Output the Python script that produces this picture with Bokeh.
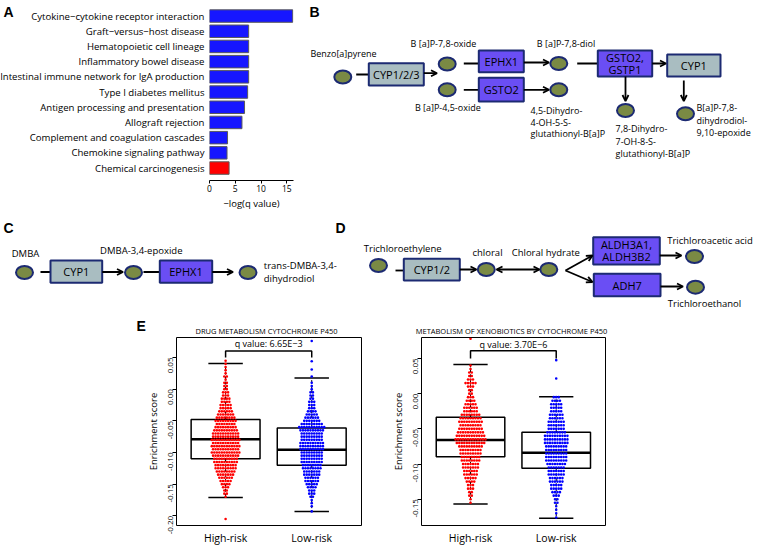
import math
from bokeh.plotting import figure
from bokeh.models import Range1d, Arrow, OpenHead, FixedTicker, Spacer
from bokeh.layouts import column, row
from bokeh.embed import file_html
from bokeh.resources import INLINE
from bokeh.core.properties import value

FONT = "Open Sans"
BOLD_FONT = "Liberation Sans"
OLIVE = "#7a8a44"
NAVY = "#1c2a72"
GREY_BOX = "#a9bdc1"
PURPLE_BOX = "#6a4ef4"

# ---------------- Panel A data ----------------
pathways = [
    "Cytokine\u2212cytokine receptor interaction",
    "Graft\u2212versus\u2212host disease",
    "Hematopoietic cell lineage",
    "Inflammatory bowel disease",
    "Intestinal immune network for IgA production",
    "Type I diabetes mellitus",
    "Antigen processing and presentation",
    "Allograft rejection",
    "Complement and coagulation cascades",
    "Chemokine signaling pathway",
    "Chemical carcinogenesis",
]
neg_log_q = [16.15, 7.6, 7.6, 7.6, 7.6, 7.4, 6.8, 6.3, 3.5, 3.4, 3.8]
highlight = "Chemical carcinogenesis"
a_ticks = [0, 5, 10, 15]
a_xlabel = "\u2212log(q value)"

# ---------------- Panel E data ----------------
groups = ["High-risk", "Low-risk"]
drug_title = "DRUG METABOLISM CYTOCHROME P450"
xeno_title = "METABOLISM OF XENOBIOTICS BY CYTOCHROME P450"
drug_q = "q value: 6.65E\u22123"
xeno_q = "q value: 3.70E\u22126"
drug_ticks = [-0.20, -0.15, -0.10, -0.05, 0.00, 0.05]
drug_tick_labels = ["-0.20", "-0.15", "-0.10", "-0.05", "0.00", "0.05"]
xeno_ticks = [-0.15, -0.10, -0.05, 0.00, 0.05]
xeno_tick_labels = ["-0.15", "-0.10", "-0.05", "0.00", "0.05"]

# box stats: lower whisker, Q1, median, Q3, upper whisker
drug_high_box = [-0.171, -0.110, -0.079, -0.048, 0.0405]
drug_low_box = [-0.193, -0.120, -0.0956, -0.0614, 0.0178]
xeno_high_box = [-0.1567, -0.0896, -0.0659, -0.0337, 0.0415]
xeno_low_box = [-0.177, -0.106, -0.0839, -0.055, -0.0045]

# beeswarm: score levels and number of samples at each level
drug_high_levels = [0.045, 0.040, 0.035, 0.030, 0.025, 0.020, 0.015, 0.010, 0.005, 0.000,
                    -0.005, -0.010, -0.015, -0.020, -0.025, -0.030, -0.035, -0.040, -0.045, -0.050,
                    -0.055, -0.060, -0.065, -0.070, -0.075, -0.080, -0.085, -0.090, -0.095, -0.100,
                    -0.105, -0.110, -0.115, -0.120, -0.125, -0.130, -0.135, -0.140, -0.145, -0.150,
                    -0.155, -0.160, -0.165, -0.170, -0.205]
drug_high_counts = [1, 1, 1, 1, 1, 2, 1, 2, 2, 2,
                    3, 3, 4, 4, 5, 5, 6, 7, 8, 9,
                    8, 9, 10, 11, 11, 12, 11, 12, 11, 12,
                    11, 10, 10, 9, 9, 8, 7, 6, 5, 4,
                    3, 2, 2, 1, 1]
drug_low_levels = [0.076, 0.044, 0.031, 0.020, 0.010, 0.005, 0.000,
                   -0.005, -0.010, -0.015, -0.020, -0.025, -0.030, -0.035, -0.040, -0.045, -0.050,
                   -0.055, -0.060, -0.065, -0.070, -0.075, -0.080, -0.085, -0.090, -0.095, -0.100,
                   -0.105, -0.110, -0.115, -0.120, -0.125, -0.130, -0.135, -0.140, -0.145, -0.150,
                   -0.155, -0.160, -0.165, -0.170, -0.175, -0.180, -0.185, -0.193]
drug_low_counts = [1, 1, 1, 1, 1, 1, 1,
                   2, 2, 2, 3, 3, 3, 4, 5, 6, 7,
                   9, 11, 10, 9, 9, 9, 10, 10, 10, 9,
                   9, 9, 9, 8, 8, 7, 7, 6, 6, 5,
                   4, 3, 3, 2, 1, 1, 1, 1]
xeno_high_levels = [0.078, 0.040, 0.035, 0.030, 0.025, 0.020, 0.015, 0.010, 0.005, 0.000,
                    -0.005, -0.010, -0.015, -0.020, -0.025, -0.030, -0.035, -0.040, -0.045, -0.050,
                    -0.055, -0.060, -0.065, -0.070, -0.075, -0.080, -0.085, -0.090, -0.095, -0.100,
                    -0.105, -0.110, -0.115, -0.120, -0.125, -0.130, -0.135, -0.140, -0.145, -0.150,
                    -0.155]
xeno_high_counts = [1, 1, 1, 2, 2, 3, 5, 3, 2, 2,
                    3, 4, 5, 6, 6, 8, 9, 10, 9, 10,
                    11, 12, 13, 12, 10, 9, 9, 8, 8, 7,
                    7, 6, 6, 5, 4, 3, 3, 2, 2, 1,
                    1]
xeno_low_levels = [0.0476, 0.0216,
                   -0.005, -0.010, -0.015, -0.020, -0.025, -0.030, -0.035, -0.040, -0.045, -0.050,
                   -0.055, -0.060, -0.065, -0.070, -0.075, -0.080, -0.085, -0.090, -0.095, -0.100,
                   -0.105, -0.110, -0.115, -0.120, -0.125, -0.130, -0.135, -0.140, -0.145, -0.150,
                   -0.155, -0.160, -0.165, -0.170, -0.176]
xeno_low_counts = [1, 1,
                   3, 4, 5, 5, 5, 6, 6, 7, 7, 7,
                   8, 10, 10, 10, 9, 9, 9, 9, 9, 8,
                   7, 7, 7, 6, 6, 5, 5, 4, 3, 2,
                   2, 1, 1, 1, 1]


def base_fig(width, height, xr, yr, **kw):
    p = figure(width=width, height=height, x_range=xr, y_range=yr,
               output_backend="svg", toolbar_location=None, **kw)
    p.grid.visible = False
    return p


def panel_letter(p, x, y, t):
    p.text(x=[x], y=[y], text=[t], text_font=value(BOLD_FONT), text_font_style="bold",
           text_font_size=value("14px"), text_baseline="top", text_align="left", text_color="black")


def black_axis(ax):
    ax.major_label_text_color = "black"
    ax.axis_label_text_color = "black"
    ax.major_tick_line_color = "black"


# ---------------- Panel A ----------------
n = len(pathways)
a_y = [n - 1 - i for i in range(n)]
a_colors = ["#ff0000" if pw == highlight else "#1616ff" for pw in pathways]
a_yrange = Range1d(-0.819, 11.023)
A_PX = 15.2  # pixels per category step

# category labels (left part of panel A), sharing the bar chart's y scale
figAL = base_fig(205, 212, Range1d(0, 205), a_yrange, min_border=0, min_border_bottom=32,
                 x_axis_location=None, y_axis_location=None)
figAL.outline_line_color = None
figAL.text(x=[204] * n, y=a_y, text=pathways, text_font=value(FONT), text_font_size=value("9.6px"),
           text_align="right", text_baseline="middle", text_color="black")
panel_letter(figAL, 3, a_yrange.end - 3 / A_PX, "A")

# bars
figAB = base_fig(98, 212, Range1d(0, 16.3), a_yrange, min_border_left=4, min_border_right=10,
                 min_border_top=0, min_border_bottom=32, y_axis_location=None)
figAB.outline_line_color = None
figAB.hbar(y=a_y, left=0, right=neg_log_q, height=0.82, fill_color=a_colors,
           line_color="#5a5a5a", line_width=1)
xa = figAB.xaxis[0]
xa.ticker = FixedTicker(ticks=a_ticks)
xa.major_tick_in = 0
xa.major_tick_out = 3
xa.minor_tick_line_color = None
xa.axis_line_color = "black"
xa.major_label_standoff = 1
xa.major_label_text_font = FONT
xa.major_label_text_font_size = "8.5px"
xa.axis_label = a_xlabel
xa.axis_label_text_font = FONT
xa.axis_label_text_font_size = "9.5px"
xa.axis_label_text_font_style = "normal"
xa.axis_label_standoff = 2
black_axis(xa)


# ---------------- Diagram helpers ----------------
def canvas(x0, x1, y0, y1, bottom=0):
    p = base_fig(x1 - x0, y1 - y0 + bottom, Range1d(x0, x1), Range1d(y1, y0),
                 min_border=0, min_border_bottom=bottom, x_axis_location=None, y_axis_location=None)
    p.outline_line_color = None
    return p


def draw_nodes(p, nodes):
    p.ellipse(x=[a for a, b in nodes], y=[b for a, b in nodes], width=17, height=13,
              fill_color=OLIVE, line_color=NAVY, line_width=2)


def draw_boxes(p, boxes, color):
    p.quad(left=[b[0] for b in boxes], right=[b[1] for b in boxes],
           top=[b[2] for b in boxes], bottom=[b[3] for b in boxes],
           fill_color=color, line_color=NAVY, line_width=2)
    xs, ys, ts = [], [], []
    for b in boxes:
        lines = b[4]
        cx = (b[0] + b[1]) / 2
        cy = (b[2] + b[3]) / 2
        k = len(lines)
        for i, t in enumerate(lines):
            xs.append(cx)
            ys.append(cy + (i - (k - 1) / 2) * 12)
            ts.append(t)
    p.text(x=xs, y=ys, text=ts, text_font=value(FONT), text_font_size=value("11px"),
           text_align="center", text_baseline="middle", text_color="black")


def draw_lines(p, segs):
    p.segment(x0=[s[0] for s in segs], y0=[s[1] for s in segs],
              x1=[s[2] for s in segs], y1=[s[3] for s in segs], line_color="black", line_width=1.8)


def draw_arrows(p, arrows, both=False):
    for a in arrows:
        kw = dict(end=OpenHead(size=6, line_width=1.8, line_color="black"),
                  x_start=a[0], y_start=a[1], x_end=a[2], y_end=a[3],
                  line_width=1.8, line_color="black")
        if both:
            kw["start"] = OpenHead(size=6, line_width=1.8, line_color="black")
        p.add_layout(Arrow(**kw))


def draw_texts(p, items, align, size="9px"):
    p.text(x=[t[0] for t in items], y=[t[1] for t in items], text=[t[2] for t in items],
           text_font=value(FONT), text_font_size=value(size), text_align=align,
           text_baseline="middle", text_color="black")


# ---------------- Panel B ----------------
figB = canvas(303, 757, 0, 180, bottom=32)
draw_lines(figB, [(355.7, 74, 368.3, 74), (463.3, 63, 478.3, 63), (463.3, 89.3, 478.3, 89.3),
                  (576.7, 63, 597.3, 63)])
draw_arrows(figB, [(423.3, 72.7, 436.5, 72.7), (523.3, 62, 548.5, 62), (523.3, 89.3, 548.5, 89.3),
                   (651.7, 63, 665.5, 63), (625, 76, 625, 100.5), (683.3, 80, 683.3, 100.5)])
draw_boxes(figB, [(368.3, 423.3, 62.7, 85, ["CYP1/2/3"]), (666.7, 720, 54, 76, ["CYP1"])], GREY_BOX)
draw_boxes(figB, [(478.3, 523.3, 50, 71.7, ["EPHX1"]), (478.3, 523.3, 77.3, 101, ["GSTO2"]),
                  (597.3, 651.7, 50, 76, ["GSTO2,", "GSTP1"])], PURPLE_BOX)
draw_nodes(figB, [(342.3, 76.5), (446.7, 63.5), (446.7, 89.3), (558.3, 63), (558.3, 89.3),
                  (625, 110), (685, 113.3)])
draw_texts(figB, [(343, 53, "Benzo[a]pyrene"), (443, 43.3, "B [a]P-7,8-oxide"),
                  (447.3, 107.3, "B [a]P-4,5-oxide"), (565.5, 43.3, "B [a]P-7,8-diol")], "center")
draw_texts(figB, [(530, 110, "4,5-Dihydro-"), (530, 121.7, "4-OH-5-S-"), (530, 133.3, "glutathionyl-B[a]P"),
                  (615, 128.3, "7,8-Dihydro-"), (615, 140.5, "7-OH-8-S-"), (615, 153, "glutathionyl-B[a]P"),
                  (696, 107.3, "B[a]P-7,8-"), (696, 119.7, "dihydrodiol-"), (696, 132.2, "9,10-epoxide")],
           "left")
panel_letter(figB, 309, 3, "B")

# ---------------- Panels C and D (plus E heading strip) ----------------
figCD = canvas(0, 757, 212, 335)
# C
draw_lines(figCD, [(40, 271.5, 50, 271.5), (143, 271.5, 159.3, 271.5)])
draw_arrows(figCD, [(101.7, 271.5, 122.5, 271.5), (211.7, 271.5, 232.5, 271.5)])
draw_boxes(figCD, [(50, 101.7, 260, 282.3, ["CYP1"])], GREY_BOX)
draw_boxes(figCD, [(159.3, 211.7, 260, 282.3, ["EPHX1"])], PURPLE_BOX)
draw_nodes(figCD, [(24, 272), (133, 272), (247.5, 272)])
draw_texts(figCD, [(25, 252.7, "DMBA"), (140.8, 250, "DMBA-3,4-epoxide")], "center", "9.5px")
draw_texts(figCD, [(263.3, 265, "trans-DMBA-3,4-"), (263.3, 277.5, "dihydrodiol")], "left", "9.5px")
panel_letter(figCD, 3, 219, "C")
# D
draw_lines(figCD, [(395, 270, 403.3, 270)])
draw_arrows(figCD, [(459.3, 269, 476, 269), (565, 270, 592, 255), (565, 270, 592, 281.5),
                    (659.3, 255, 681, 255), (660, 286, 682.5, 286)])
draw_arrows(figCD, [(496, 269, 539, 269)], both=True)
draw_boxes(figCD, [(403.3, 459.3, 258.3, 280, ["CYP1/2"])], GREY_BOX)
draw_boxes(figCD, [(592.7, 659.3, 236.7, 264, ["ALDH3A1,", "ALDH3B2"]),
                   (593.3, 660, 273.3, 295.7, ["ADH7"])], PURPLE_BOX)
draw_nodes(figCD, [(378, 265), (485.8, 269), (548.3, 269), (694, 256), (695, 286.7)])
draw_texts(figCD, [(487, 252.3, "chloral"), (545.3, 252.3, "Chloral hydrate"),
                   (704, 303.3, "Trichloroethanol")], "center", "9.5px")
draw_texts(figCD, [(363.3, 248.3, "Trichloroethylene"), (666.7, 240, "Trichloroacetic acid")], "left", "9.5px")
panel_letter(figCD, 335, 219, "D")
# E heading: letter and the two chart titles
panel_letter(figCD, 136, 317, "E")
draw_texts(figCD, [(266, 330.5, drug_title), (511, 330.5, xeno_title)], "center", "7.5px")


# ---------------- Panel E ----------------
def swarm(levels, counts, center, dx):
    xs, ys = [], []
    for v, c in zip(levels, counts):
        for k in range(c):
            xs.append(center + (k - (c - 1) / 2) * dx)
            ys.append(v)
    return xs, ys


def enrichment_fig(xr, yr, ticks, tick_labels, boxes, swarms, qtext, q_top, q_base, q_text_y,
                   left, right):
    p = base_fig(245, 212, Range1d(*xr), Range1d(*yr),
                 min_border_left=left, min_border_right=right, min_border_top=2, min_border_bottom=22)
    p.outline_line_color = "black"
    p.outline_line_width = 1
    yax = p.yaxis[0]
    yax.ticker = FixedTicker(ticks=ticks)
    yax.major_label_overrides = {t: l for t, l in zip(ticks, tick_labels)}
    yax.major_label_orientation = math.pi / 2
    yax.axis_line_color = None
    yax.major_tick_in = 0
    yax.major_tick_out = 4
    yax.minor_tick_line_color = None
    yax.major_label_standoff = 2
    yax.major_label_text_font = FONT
    yax.major_label_text_font_size = "8px"
    yax.axis_label = "Enrichment score"
    yax.axis_label_text_font = FONT
    yax.axis_label_text_font_size = "9.5px"
    yax.axis_label_text_font_style = "normal"
    yax.axis_label_standoff = 3
    black_axis(yax)
    xax = p.xaxis[0]
    xax.ticker = FixedTicker(ticks=[1, 2])
    xax.major_label_overrides = {1: groups[0], 2: groups[1]}
    xax.axis_line_color = None
    xax.major_tick_in = 0
    xax.major_tick_out = 0
    xax.minor_tick_line_color = None
    xax.major_label_standoff = 5
    xax.major_label_text_font = FONT
    xax.major_label_text_font_size = "10.5px"
    black_axis(xax)
    xax.major_tick_line_color = None

    centers = [1, 2]
    lw = [b[0] for b in boxes]
    q1 = [b[1] for b in boxes]
    med = [b[2] for b in boxes]
    q3 = [b[3] for b in boxes]
    uw = [b[4] for b in boxes]
    p.segment(x0=centers, x1=centers, y0=q3, y1=uw, line_color="black", line_width=1, line_dash="3 2")
    p.segment(x0=centers, x1=centers, y0=q1, y1=lw, line_color="black", line_width=1, line_dash="3 2")
    p.segment(x0=[c - 0.2 for c in centers], x1=[c + 0.2 for c in centers], y0=uw, y1=uw,
              line_color="black", line_width=1.5)
    p.segment(x0=[c - 0.2 for c in centers], x1=[c + 0.2 for c in centers], y0=lw, y1=lw,
              line_color="black", line_width=1.5)
    p.quad(left=[c - 0.4 for c in centers], right=[c + 0.4 for c in centers], top=q3, bottom=q1,
           fill_color=None, line_color="black", line_width=1.5)
    p.segment(x0=[c - 0.4 for c in centers], x1=[c + 0.4 for c in centers], y0=med, y1=med,
              line_color="black", line_width=2.5)
    for (levels, counts, color), c in zip(swarms, centers):
        xs, ys = swarm(levels, counts, c, 2.5 / 86)
        p.scatter(x=xs, y=ys, marker="circle", size=2.6, fill_color=color, line_color=None)
    p.line(x=[1, 1, 2, 2], y=[q_base, q_top, q_top, q_base], line_color="black", line_width=1.5)
    p.text(x=[1.5], y=[q_text_y], text=[qtext], text_font=value(FONT), text_font_size=value("9px"),
           text_align="center", text_baseline="middle", text_color="black")
    return p


figE1 = enrichment_fig((0.43, 2.578), (-0.2153, 0.0816), drug_ticks, drug_tick_labels,
                       [drug_high_box, drug_low_box],
                       [(drug_high_levels, drug_high_counts, "#ff0000"),
                        (drug_low_levels, drug_low_counts, "#0000ff")],
                       drug_q, 0.0604, 0.050, 0.0722, 46, 14)
figE2 = enrichment_fig((0.428, 2.575), (-0.1874, 0.0798), xeno_ticks, xeno_tick_labels,
                       [xeno_high_box, xeno_low_box],
                       [(xeno_high_levels, xeno_high_counts, "#ff0000"),
                        (xeno_low_levels, xeno_low_counts, "#0000ff")],
                       xeno_q, 0.0608, 0.050, 0.0703, 46, 15)

layout = column(
    row(figAL, figAB, figB),
    figCD,
    row(Spacer(width=130, height=212), figE1, figE2, Spacer(width=137, height=212)),
)

open("out.html", "w").write(file_html(layout, INLINE))
